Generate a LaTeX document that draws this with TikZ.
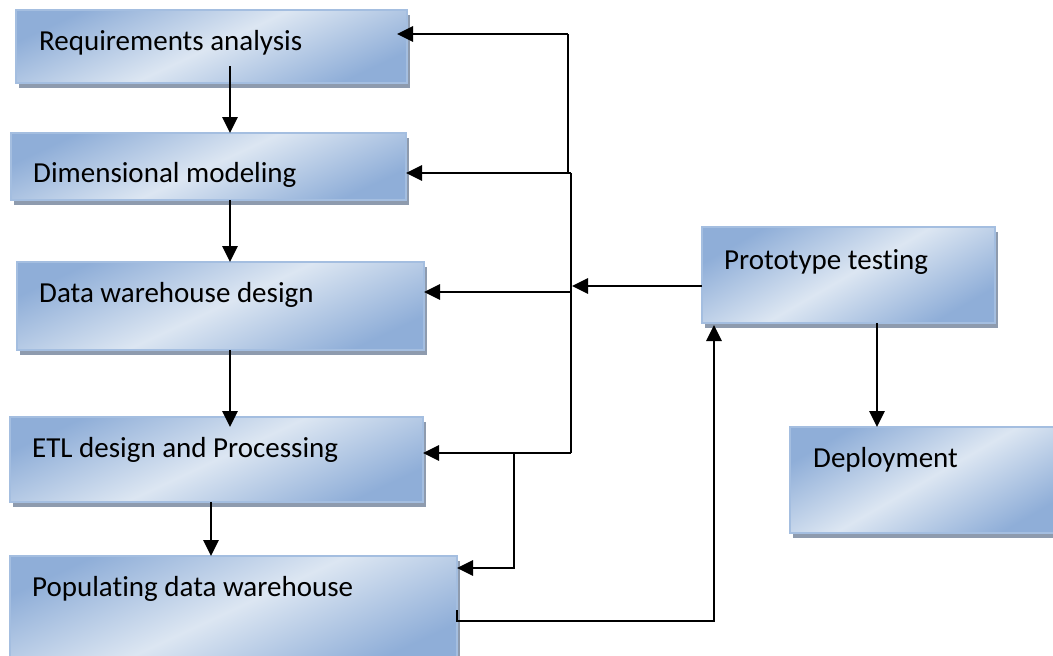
\documentclass[tikz,border=0pt]{standalone}
\usepackage{fontspec}
\setmainfont{Carlito}[Ligatures={NoCommon}]
\usetikzlibrary{arrows.meta,shadows,calc}

\definecolor{bdark}{HTML}{8FAED8}
\definecolor{blight}{HTML}{DCE6F2}
\definecolor{bedge}{HTML}{A4BEE0}
\definecolor{shadowc}{HTML}{8E9BAE}

\tikzset{
  stagebox/.style={draw=bedge, line width=1.2pt, inner sep=0pt, outer sep=0pt,
    anchor=north west,
    top color=bdark, bottom color=bdark, middle color=blight, shading angle=25,
    drop shadow={shadow xshift=3pt, shadow yshift=-5pt, fill=shadowc, opacity=1}},
  lbl/.style={anchor=base west, inner sep=0pt, font=\fontsize{29}{34}\selectfont},
  wire/.style={line width=2.8pt, black},
  arr/.style={wire, -{Triangle[length=16pt,width=15pt]}},
}

\begin{document}
\begin{tikzpicture}[x=1pt, y=-1pt]
\useasboundingbox (0,0) rectangle (1053,656);
\clip (0,0) rectangle (1053,656);
\fill[white] (0,0) rectangle (1053,656);

% process stages
\node[stagebox, minimum width=391pt, minimum height=73pt]  (req)    at (16,10)   {};
\node[stagebox, minimum width=395pt, minimum height=67pt]  (dim)    at (11,133)  {};
\node[stagebox, minimum width=407pt, minimum height=88pt]  (dwd)    at (17,262)  {};
\node[stagebox, minimum width=413pt, minimum height=85pt]  (etl)    at (10,417)  {};
\node[stagebox, minimum width=447pt, minimum height=106pt] (pop)    at (10,556)  {};
\node[stagebox, minimum width=293pt, minimum height=96pt, shading angle=30]  (proto)  at (702,227) {};
\node[stagebox, minimum width=272pt, minimum height=106pt, shading angle=30] (deploy) at (790,427) {};

% stage titles
\node[lbl] (reqT)    at (39,50)   {Requirements analysis};
\node[lbl] (dimT)    at (33,182)  {Dimensional modeling};
\node[lbl] (dwdT)    at (39,302)  {Data warehouse design};
\node[lbl] (etlT)    at (32,457)  {ETL design and Processing};
\node[lbl] (popT)    at (32,596)  {Populating data warehouse};
\node[lbl] (protoT)  at (724,269) {Prototype testing};
\node[lbl] (deployT) at (813,467) {Deployment};

% forward flow
\coordinate (s1) at (230,66);
\coordinate (s2) at (230,200);
\coordinate (s3) at (230,350);
\coordinate (s4) at (211,502);
\draw[arr] (s1) -- (s1 |- dim.north);
\draw[arr] (s2) -- (s2 |- dwd.north);
\draw[arr] (s3) -- ($(s3 |- etl.north)+(0,10)$);
\draw[arr] (s4) -- (s4 |- pop.north);

% feedback bus from prototype testing
\coordinate (j1) at (568,34);
\coordinate (j1b) at (568,173);
\coordinate (j2) at (571,173);
\coordinate (j3) at (571,292);
\coordinate (jp) at (572,286);
\coordinate (j4) at (571,453);
\coordinate (k1) at (514,453);
\coordinate (k2) at (514,568);
\draw[wire] (j1) -- (j1b);
\draw[wire] (j2) -- (j4);
\draw[arr] (j1) -- ($(j1 -| req.east)+(-10,0)$);
\draw[arr] (j2) -- (j2 -| dim.east);
\draw[arr] (j3) -- (j3 -| dwd.east);
\draw[arr] (j4) -- (j4 -| etl.east);
\draw[arr] (k1) -- (k2) -- (k2 -| pop.east);
\draw[arr] (jp -| proto.west) -- (jp);

% populated warehouse goes to prototype testing
\coordinate (m1) at (457,610);
\coordinate (m2) at (457,621);
\coordinate (m3) at (714,621);
\draw[arr] (m1) -- (m2) -- (m3) -- ($(m3 |- proto.south)+(0,2)$);

% prototype testing to deployment
\coordinate (d1) at (877,0);
\draw[arr] (proto.south -| d1) -- (deploy.north -| d1);
\end{tikzpicture}
\end{document}
